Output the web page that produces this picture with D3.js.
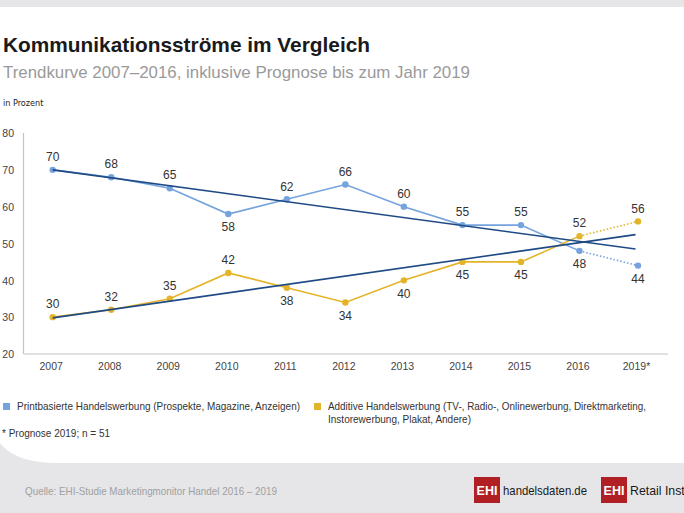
<!DOCTYPE html>
<html><head><meta charset="utf-8">
<script src="https://cdn.jsdelivr.net/npm/d3@7"></script>
<style>body{margin:0;background:#fff}svg{display:block}</style>
</head><body>
<svg id="c" width="684" height="513"></svg>
<script>
const categories = ["2007","2008","2009","2010","2011","2012","2013","2014","2015","2016","2019*"];
const printValues = [70,68,65,58,62,66,60,55,55,48,44];
const additiveValues = [30,32,35,42,38,34,40,45,45,52,56];
const printLabelPos = ["a","a","a","b","a","a","a","a","a","b","b"];
const additiveLabelPos = ["a","a","a","a","b","b","b","b","b","a","a"];
const printTrend = [70,48.5];
const additiveTrend = [29.8,52.4];
const yTicks = [20,30,40,50,60,70,80];
const seriesNames = ["Printbasierte Handelswerbung (Prospekte, Magazine, Anzeigen)",
  ["Additive Handelswerbung (TV-, Radio-, Onlinewerbung, Direktmarketing,","Instorewerbung, Plakat, Andere)"]];

const svg = d3.select("#c");
const sans = "'Liberation Sans',Arial,sans-serif";
const cond = "'DejaVu Sans Condensed','Liberation Sans',sans-serif";

function fit(sel, w){ return sel.attr("textLength",w).attr("lengthAdjust","spacingAndGlyphs"); }

// background
svg.append("rect").attr("width",684).attr("height",513).attr("fill","#e6e6e8");
svg.append("path").attr("d","M0,7 H684 V463 H60 C25,463 10,455 0,443 Z").attr("fill","#fff");

// titles
fit(svg.append("text").attr("x",3).attr("y",52).text("Kommunikationsströme im Vergleich")
  .attr("font-family",sans).attr("font-weight","bold").attr("font-size",21).attr("fill","#1a1a1a"),367);
fit(svg.append("text").attr("x",3).attr("y",78).text("Trendkurve 2007–2016, inklusive Prognose bis zum Jahr 2019")
  .attr("font-family",sans).attr("font-size",17).attr("fill","#9a9a9a"),467);
svg.append("text").attr("x",3).attr("y",106).text("in Prozent")
  .attr("font-family",cond).attr("font-size",9).attr("fill","#222");

const x = d3.scalePoint().domain(categories).range([52.7,638]);
const y = d3.scaleLinear().domain([20,80]).range([354,133]);

// axes
const axisColor = "#c4c4c4";
svg.append("line").attr("x1",23.5).attr("x2",23.5).attr("y1",y(80)).attr("y2",y(20)).attr("stroke",axisColor).attr("stroke-width",1.2);
svg.append("line").attr("x1",23.5).attr("x2",668).attr("y1",y(20)).attr("y2",y(20)).attr("stroke",axisColor).attr("stroke-width",1.2);

const yAxis = d3.axisLeft(y).tickValues(yTicks).tickSize(0).tickPadding(0);
const gy = svg.append("g").attr("transform","translate(14,0)").call(yAxis);
gy.select(".domain").remove();
gy.selectAll("text").attr("font-family",sans).attr("font-size",10.5).attr("fill","#444").attr("dy","0.35em");

const xAxis = d3.axisBottom(x).tickSize(0).tickPadding(0);
const gx = svg.append("g").attr("transform","translate(-2,363)").call(xAxis);
gx.select(".domain").remove();
gx.selectAll("text").attr("font-family",sans).attr("font-size",10.5).attr("fill","#444").attr("dy","0.71em");

const blue = "#74a3dd", gold = "#e4b428", dark = "#1f4a86";
const line = d3.line().x((d,i)=>x(categories[i])).y(d=>y(d));

function drawSeries(vals, color, pos){
  const n = vals.length;
  const solid = vals.slice(0,n-1);
  svg.append("path").attr("d", line(solid)).attr("fill","none").attr("stroke",color).attr("stroke-width",1.6);
  svg.append("line").attr("x1",x(categories[n-2])).attr("y1",y(vals[n-2]))
    .attr("x2",x(categories[n-1])).attr("y2",y(vals[n-1]))
    .attr("stroke",color).attr("stroke-width",1.6).attr("stroke-dasharray","1.5,2");
  svg.append("g").selectAll("circle").data(vals).join("circle")
    .attr("cx",(d,i)=>x(categories[i])).attr("cy",d=>y(d)).attr("r",3.2).attr("fill",color);
  svg.append("g").selectAll("text").data(vals).join("text")
    .attr("x",(d,i)=>x(categories[i])).attr("y",(d,i)=>y(d)+(pos[i]==="a"?-13:13))
    .attr("dy","0.35em").attr("text-anchor","middle").text(d=>d)
    .attr("font-family",sans).attr("font-size",12).attr("fill","#333");
}
function drawTrend(t){
  svg.append("line").attr("x1",x(categories[0])).attr("y1",y(t[0]))
    .attr("x2",x(categories[categories.length-1])-2.5).attr("y2",y(t[1]))
    .attr("stroke",dark).attr("stroke-width",1.6);
}
drawSeries(printValues, blue, printLabelPos);
drawSeries(additiveValues, gold, additiveLabelPos);
drawTrend(printTrend);
drawTrend(additiveTrend);

// legend
const lg = svg.append("g").attr("font-family",sans).attr("font-size",10.5).attr("fill","#333");
lg.append("rect").attr("x",3).attr("y",403).attr("width",7).attr("height",7).attr("fill",blue);
fit(lg.append("text").attr("x",17).attr("y",410).text(seriesNames[0]),283);
lg.append("rect").attr("x",314).attr("y",403).attr("width",7).attr("height",7).attr("fill",gold);
fit(lg.append("text").attr("x",328).attr("y",410).text(seriesNames[1][0]),318);
fit(lg.append("text").attr("x",328).attr("y",423).text(seriesNames[1][1]),143);
fit(lg.append("text").attr("x",2).attr("y",437).text("* Prognose 2019; n = 51"),108);

// footer
fit(svg.append("text").attr("x",25).attr("y",495).text("Quelle: EHI-Studie Marketingmonitor Handel 2016 – 2019")
  .attr("font-family",sans).attr("font-size",10.5).attr("fill","#a0a0a0"),252);
function logo(x0, label, w){
  svg.append("rect").attr("x",x0).attr("y",477).attr("width",26).attr("height",26).attr("fill","#b01f24");
  svg.append("text").attr("x",x0+13).attr("y",495).attr("text-anchor","middle").text("EHI")
    .attr("font-family",sans).attr("font-weight","bold").attr("font-size",12.5).attr("fill","#fff");
  fit(svg.append("text").attr("x",x0+29).attr("y",495).text(label)
    .attr("font-family",sans).attr("font-size",13.5).attr("fill","#1a1a1a"), w);
}
logo(474,"handelsdaten.de",84);
logo(601,"Retail Institute",78);
</script>
</body></html>
